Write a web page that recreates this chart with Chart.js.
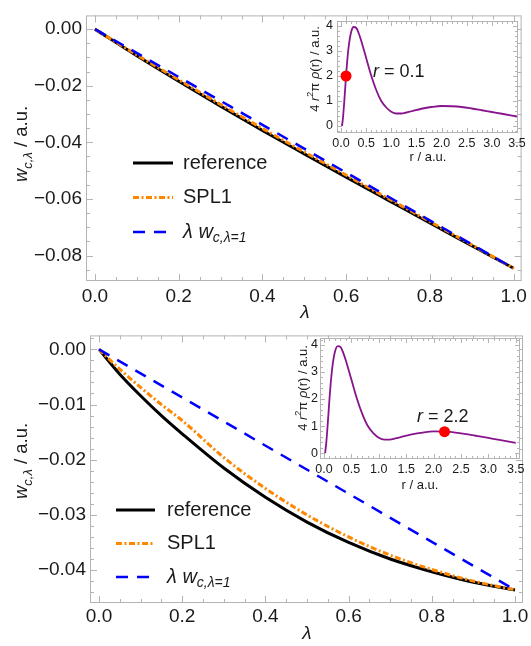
<!DOCTYPE html>
<html>
<head>
<meta charset="utf-8">
<script src="https://cdn.jsdelivr.net/npm/chart.js@4.4.1/dist/chart.umd.min.js"></script>
<style>
  html, body { margin: 0; padding: 0; background: #fff; }
  #page { position: relative; width: 531px; height: 646px; overflow: hidden; background: #fff; }
  canvas { position: absolute; }
</style>
</head>
<body>
<div id="page">
  <canvas id="mainTop" width="531" height="320" style="left:0;top:0"></canvas>
  <canvas id="mainBottom" width="531" height="326" style="left:0;top:320px"></canvas>
  <canvas id="insetTop" width="241" height="175" style="left:290px;top:0"></canvas>
  <canvas id="insetBottom" width="261" height="175" style="left:270px;top:325px"></canvas>
</div>
<script>
// ---- adiabatic-connection curves, upper panel (r = 0.1) ----
const lambdaTop = [0, 0.1, 0.2, 0.3, 0.4, 0.5, 0.6, 0.7, 0.8, 0.9, 1.0];
const refTop    = [0, -0.0094, -0.0184, -0.0272, -0.0358, -0.0441, -0.0523, -0.0604, -0.0685, -0.0765, -0.0845];
const splTop    = [0, -0.0091, -0.0179, -0.0266, -0.0351, -0.0434, -0.0516, -0.0598, -0.0680, -0.0762, -0.0845];
const lambdaEnds = [0, 1];
const linTop    = [0, -0.0845];

// ---- lower panel (r = 2.2) ----
const lambdaBottom = [0, 0.05, 0.1, 0.15, 0.2, 0.3, 0.4, 0.5, 0.6, 0.7, 0.8, 0.9, 1.0];
const refBottom    = [0, -0.0045, -0.0084, -0.0120, -0.0153, -0.0215, -0.0268, -0.0313, -0.0350, -0.0380, -0.0403, -0.0422, -0.0436];
const splBottom    = [0, -0.0036, -0.0069, -0.0100, -0.0129, -0.0196, -0.0252, -0.0300, -0.0340, -0.0373, -0.0399, -0.0420, -0.0436];
const linBottom    = [0, -0.0436];

// ---- radial density 4 r^2 pi rho(r) for the insets ----
const rGrid = [0.02, 0.04, 0.06, 0.08, 0.1, 0.13, 0.16, 0.2, 0.25, 0.3, 0.35, 0.4, 0.5, 0.6, 0.7, 0.8, 0.9,
               1.0, 1.1, 1.2, 1.3, 1.4, 1.6, 1.8, 2.0, 2.2, 2.4, 2.6, 2.8, 3.0, 3.2, 3.5];
const radialDensity = [0, 0.35, 0.85, 1.42, 2.0, 2.75, 3.3, 3.75, 3.96, 3.93, 3.72, 3.42, 2.72, 2.02, 1.44, 1.0, 0.74,
                       0.57, 0.5, 0.5, 0.54, 0.59, 0.69, 0.76, 0.8, 0.79, 0.76, 0.7, 0.63, 0.56, 0.49, 0.38];
const markRTop = [0.1],  markDensityTop = [2.0];
const markRBottom = [2.2], markDensityBottom = [0.79];

// ---- tick labels ----
const lambdaTicks = [0, 0.2, 0.4, 0.6, 0.8, 1.0];
const wTicksTop = [0, -0.02, -0.04, -0.06, -0.08];
const wTicksBottom = [0, -0.01, -0.02, -0.03, -0.04];
const rTicks = [0, 0.5, 1.0, 1.5, 2.0, 2.5, 3.0, 3.5];
const densityTicks = [0, 1, 2, 3, 4];
const seriesLabels = ['reference', 'SPL1', 'λ w_c,λ=1'];

const FONT = '"Liberation Sans", Arial, Helvetica, sans-serif';
const TEXT = '#1a1a1a';
const FRAME = '#b4b4b4';

const pts = (xs, ys) => xs.map((x, i) => ({ x, y: ys[i] }));
const signed = (v, d) => (v < -1e-12 ? '\u2212' : '') + Math.abs(v).toFixed(d);

// rich text: parts are [text, flags] with i = italic, b = subscript, p = superscript
function partFont(flags, size) {
  const s = (flags.includes('b') || flags.includes('p')) ? Math.round(size * 0.68) : size;
  return (flags.includes('i') ? 'italic ' : '') + s + 'px ' + FONT;
}
function drawRich(ctx, parts, x, y, size, align) {
  ctx.save();
  let w = 0;
  parts.forEach(([t, f]) => { ctx.font = partFont(f, size); w += ctx.measureText(t).width; });
  let cx = align === 'center' ? x - w / 2 : align === 'right' ? x - w : x;
  ctx.fillStyle = TEXT;
  ctx.textBaseline = 'middle';
  ctx.textAlign = 'left';
  parts.forEach(([t, f]) => {
    ctx.font = partFont(f, size);
    let dy = 0;
    if (f.includes('b')) dy = size * 0.32;
    if (f.includes('p')) dy = -size * 0.36;
    ctx.fillText(t, cx, y + dy);
    cx += ctx.measureText(t).width;
  });
  ctx.restore();
}
function parseLabel(label) {
  if (!label.includes('_')) return [[label, '']];
  const [main, sub] = label.split('_');
  return [[main, 'i'], [sub, 'ib']];
}

// framed plot box with inward major/minor ticks on all four sides
const framePlugin = {
  id: 'frameBox',
  beforeDatasetsDraw(chart, args, o) {
    const { ctx, chartArea: a } = chart;
    ctx.save();
    if (o.fill) { ctx.fillStyle = o.fill; ctx.fillRect(a.left, a.top, a.right - a.left, a.bottom - a.top); }
    ctx.strokeStyle = FRAME;
    ctx.lineWidth = 1;
    ctx.strokeRect(a.left + 0.5, a.top + 0.5, a.right - a.left - 1, a.bottom - a.top - 1);
    const marks = (scale, sub, fn) => {
      const t = scale.ticks.map(k => k.value);
      const step = Math.abs(t[1] - t[0]);
      const ms = step / sub;
      const lo = Math.min(scale.min, scale.max), hi = Math.max(scale.min, scale.max);
      for (let k = Math.ceil(lo / ms - 1e-9); k * ms <= hi + 1e-12; k++) {
        const v = k * ms;
        const major = Math.abs(v / step - Math.round(v / step)) < 1e-6;
        fn(scale.getPixelForValue(v), major ? o.major : o.minor);
      }
    };
    ctx.beginPath();
    marks(chart.scales.x, o.subX, (p, L) => {
      const px = Math.round(p) + 0.5;
      ctx.moveTo(px, a.bottom); ctx.lineTo(px, a.bottom - L);
      ctx.moveTo(px, a.top); ctx.lineTo(px, a.top + L);
    });
    marks(chart.scales.y, o.subY, (p, L) => {
      const py = Math.round(p) + 0.5;
      ctx.moveTo(a.left, py); ctx.lineTo(a.left + L, py);
      ctx.moveTo(a.right, py); ctx.lineTo(a.right - L, py);
    });
    ctx.stroke();
    ctx.restore();
  }
};

// legend drawn inside the plot area, using each dataset's own stroke style
const innerLegend = {
  id: 'innerLegend',
  afterDatasetsDraw(chart, args, o) {
    if (!o.display) return;
    const ctx = chart.ctx;
    let row = 0;
    chart.data.datasets.forEach(ds => {
      if (!ds.inLegend) return;
      const y = o.y + row * o.rowHeight;
      ctx.save();
      ctx.strokeStyle = ds.borderColor;
      ctx.lineWidth = ds.borderWidth;
      ctx.setLineDash(ds.borderDash || []);
      ctx.beginPath();
      ctx.moveTo(o.x, y);
      ctx.lineTo(o.x + o.lineLength, y);
      ctx.stroke();
      ctx.restore();
      drawRich(ctx, parseLabel(ds.label), o.x + o.lineLength + o.gap, y, o.size, 'left');
      row++;
    });
  }
};

// axis titles and annotations
const textPlugin = {
  id: 'richTexts',
  afterDraw(chart, args, o) {
    const ctx = chart.ctx;
    (o.items || []).forEach(it => {
      if (it.rotate) {
        ctx.save();
        ctx.translate(it.x, it.y);
        ctx.rotate(-Math.PI / 2);
        drawRich(ctx, it.parts, 0, 0, it.size, 'center');
        ctx.restore();
      } else {
        drawRich(ctx, it.parts, it.x, it.y, it.size, it.align || 'center');
      }
    });
  }
};

Chart.register(framePlugin, innerLegend, textPlugin);

function mainChart(id, opt) {
  return new Chart(document.getElementById(id), {
    type: 'line',
    data: {
      datasets: [
        { label: seriesLabels[0], data: pts(opt.lambda, opt.ref), borderColor: '#000000', borderWidth: 3,
          order: 3, inLegend: true },
        { label: seriesLabels[1], data: pts(opt.lambda, opt.spl), borderColor: 'rgb(255,135,0)', borderWidth: 3,
          borderDash: [6, 2.5, 2, 2.5], order: 2, inLegend: true },
        { label: seriesLabels[2], data: pts(lambdaEnds, opt.lin), borderColor: 'rgb(0,0,255)', borderWidth: 2.5,
          borderDash: [12, 9], order: 1, inLegend: true }
      ]
    },
    options: {
      responsive: false,
      animation: false,
      devicePixelRatio: 1,
      layout: { autoPadding: false, padding: { left: 0, right: opt.padRight, top: opt.padTop, bottom: 0 } },
      elements: { point: { radius: 0 }, line: { cubicInterpolationMode: 'monotone', borderCapStyle: 'butt' } },
      plugins: {
        legend: { display: false },
        tooltip: { enabled: false },
        frameBox: { major: 7, minor: 4, subX: 4, subY: opt.subY },
        innerLegend: opt.legend,
        richTexts: { items: opt.texts }
      },
      scales: {
        x: {
          type: 'linear', min: opt.xMin, max: opt.xMax,
          grid: { display: false, drawTicks: false },
          border: { display: false },
          afterBuildTicks: s => { s.ticks = lambdaTicks.map(v => ({ value: v })); },
          afterFit: s => { s.height = opt.xHeight; },
          ticks: { padding: opt.xPad, color: TEXT, font: { family: FONT, size: 19 }, maxRotation: 0,
                   callback: v => v.toFixed(1) }
        },
        y: {
          type: 'linear', min: opt.yMin, max: opt.yMax,
          grid: { display: false, drawTicks: false },
          border: { display: false },
          afterBuildTicks: s => { s.ticks = opt.yTicks.map(v => ({ value: v })); },
          afterFit: s => { s.width = opt.yWidth; },
          ticks: { padding: 4, color: TEXT, font: { family: FONT, size: 19 },
                   callback: v => signed(v, 2) }
        }
      }
    }
  });
}

const wTitle = [['w', 'i'], ['c,λ', 'ib'], [' / a.u.', '']];
const lamTitle = [['λ', 'i']];

mainChart('mainTop', {
  lambda: lambdaTop, ref: refTop, spl: splTop, lin: linTop,
  xMin: -0.0214, xMax: 1.019, yMin: -0.0890, yMax: 0.00485, yTicks: wTicksTop, subY: 4,
  yWidth: 86, xHeight: 39, padRight: 8, padTop: 10, xPad: 4,
  legend: { display: true, x: 133, y: 163, lineLength: 40, gap: 10, rowHeight: 34.5, size: 20 },
  texts: [
    { parts: wTitle, x: 22, y: 144, size: 18.5, rotate: true },
    { parts: lamTitle, x: 305, y: 313, size: 19 }
  ]
});

mainChart('mainBottom', {
  lambda: lambdaBottom, ref: refBottom, spl: splBottom, lin: linBottom,
  xMin: -0.0216, xMax: 1.0192, yMin: -0.04597, yMax: 0.00253, yTicks: wTicksBottom, subY: 5,
  yWidth: 90, xHeight: 43, padRight: 8, padTop: 15, xPad: 2,
  legend: { display: true, x: 116, y: 190, lineLength: 39, gap: 12, rowHeight: 33.5, size: 20 },
  texts: [
    { parts: wTitle, x: 22, y: 141, size: 18.5, rotate: true },
    { parts: lamTitle, x: 307, y: 314, size: 19 }
  ]
});

const densityTitle = [['4 ', ''], ['r', 'i'], ['2', 'p'], ['π ', ''], ['ρ', 'i'], ['(r) / a.u.', '']];
const rTitle = [['r / a.u.', '']];

function insetChart(id, opt) {
  return new Chart(document.getElementById(id), {
    type: 'line',
    data: {
      datasets: [
        { label: 'marker', data: pts(opt.markR, opt.markV), showLine: false, pointRadius: 5.5,
          pointBackgroundColor: 'rgb(255,0,0)', pointBorderWidth: 0, order: 0 },
        { label: 'density', data: pts(rGrid, radialDensity), borderColor: 'rgb(135,20,140)', borderWidth: 1.8,
          pointRadius: 0, order: 1 }
      ]
    },
    options: {
      responsive: false,
      animation: false,
      devicePixelRatio: 1,
      layout: { autoPadding: false, padding: { left: 0, right: opt.padRight, top: opt.padTop, bottom: 0 } },
      elements: { line: { cubicInterpolationMode: 'monotone' } },
      plugins: {
        legend: { display: false },
        tooltip: { enabled: false },
        frameBox: { major: 5, minor: 3, subX: 5, subY: 5, fill: '#ffffff' },
        innerLegend: { display: false },
        richTexts: { items: opt.texts }
      },
      scales: {
        x: {
          type: 'linear', min: opt.xMin, max: opt.xMax,
          grid: { display: false, drawTicks: false },
          border: { display: false },
          afterBuildTicks: s => { s.ticks = rTicks.map(v => ({ value: v })); },
          afterFit: s => { s.height = opt.xHeight; },
          ticks: { padding: 3, color: TEXT, font: { family: FONT, size: 12.5 }, maxRotation: 0, autoSkip: false,
                   callback: v => v.toFixed(1) }
        },
        y: {
          type: 'linear', min: opt.yMin, max: opt.yMax,
          grid: { display: false, drawTicks: false },
          border: { display: false },
          afterBuildTicks: s => { s.ticks = densityTicks.map(v => ({ value: v })); },
          afterFit: s => { s.width = opt.yWidth; },
          ticks: { padding: opt.yPad, color: TEXT, font: { family: FONT, size: 12.5 }, callback: v => String(v) }
        }
      }
    }
  });
}

insetChart('insetTop', {
  markR: markRTop, markV: markDensityTop,
  xMin: -0.08, xMax: 3.52, yMin: -0.28, yMax: 4.2, yWidth: 47, xHeight: 42, padRight: 13, padTop: 21, yPad: 4,
  texts: [
    { parts: densityTitle, x: 25, y: 69, size: 13, rotate: true },
    { parts: rTitle, x: 138, y: 157, size: 13 },
    { parts: [['r', 'i'], [' = ' + markRTop[0], '']], x: 83, y: 72, size: 18, align: 'left' }
  ]
});

insetChart('insetBottom', {
  markR: markRBottom, markV: markDensityBottom,
  xMin: -0.073, xMax: 3.578, yMin: -0.22, yMax: 4.26, yWidth: 50, xHeight: 41, padRight: 11, padTop: 13, yPad: 2,
  texts: [
    { parts: densityTitle, x: 33, y: 63, size: 13, rotate: true },
    { parts: rTitle, x: 150, y: 160, size: 13 },
    { parts: [['r', 'i'], [' = ' + markRBottom[0], '']], x: 147, y: 92, size: 18, align: 'left' }
  ]
});
</script>
</body>
</html>
